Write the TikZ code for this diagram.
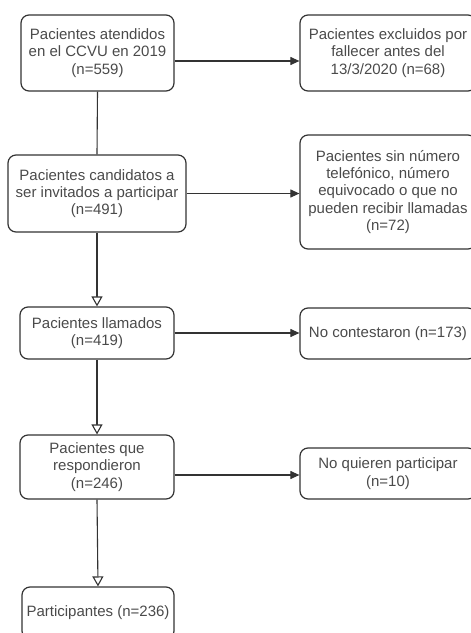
\documentclass[tikz,border=0pt]{standalone}
\usepackage{fontspec}
\setmainfont{Liberation Sans}
\usetikzlibrary{arrows.meta}
\definecolor{txt}{HTML}{4A4A4A}
\definecolor{brd}{HTML}{333333}
\begin{document}
\begin{tikzpicture}[x=1pt,y=-1pt,
  box/.style={draw=brd,line width=1.2pt,rounded corners=8pt,rectangle,align=center,
    text=txt,font=\fontsize{15}{17.3}\selectfont,inner sep=0pt},
  conn/.style={draw=brd,line width=1.1pt},
  fillarr/.style={conn,-{Triangle[length=9pt,width=8pt]}},
  openarr/.style={conn,-{Triangle[open,length=10pt,width=11pt,fill=white]}}]
\useasboundingbox (0,0) rectangle (471,633);
\clip (0,0) rectangle (471,633);
\node[box,minimum width=153pt,minimum height=76pt] (b1) at (97.5,53) {Pacientes atendidos\\en el CCVU en 2019\\(n=559)};
\node[box,minimum width=176pt,minimum height=76pt] (b2) at (388,53) {Pacientes excluidos por\\fallecer antes del\\13/3/2020 (n=68)};
\node[box,minimum width=178pt,minimum height=77pt] (b3) at (97,193.5) {Pacientes candidatos a\\ser invitados a participar\\(n=491)};
\node[box,minimum width=176pt,minimum height=114pt] (b4) at (388,192) {Pacientes sin número\\telefónico, número\\equivocado o que no\\pueden recibir llamadas\\(n=72)};
\node[box,minimum width=154pt,minimum height=52pt] (b5) at (97,333) {Pacientes llamados\\(n=419)};
\node[box,minimum width=176pt,minimum height=51pt] (b6) at (388,333.5) {No contestaron (n=173)};
\node[box,minimum width=154pt,minimum height=64pt] (b7) at (97,467) {Pacientes que\\respondieron\\(n=246)};
\node[box,minimum width=176pt,minimum height=51pt] (b8) at (388,473.5) {No quieren participar\\(n=10)};
\node[box,minimum width=152pt,minimum height=52pt] (b9) at (98,613) {Participantes (n=236)};
\draw[fillarr] ([yshift=-8pt]b1.east) -- ([yshift=-8pt]b1.east -| b2.west);
\draw[conn] (b1.south) -- (b3.north);
\draw[fillarr] (b3.east) -- (b3.east -| b4.west);
\draw[openarr] (b3.south) -- (b5.north);
\draw[fillarr] (b5.east) -- (b5.east -| b6.west);
\draw[openarr] (b5.south) -- (b7.north);
\draw[fillarr] ([yshift=-8pt]b7.east) -- ([yshift=-8pt]b7.east -| b8.west);
\draw[openarr] (b7.south) -- (b9.north);
\end{tikzpicture}
\end{document}
